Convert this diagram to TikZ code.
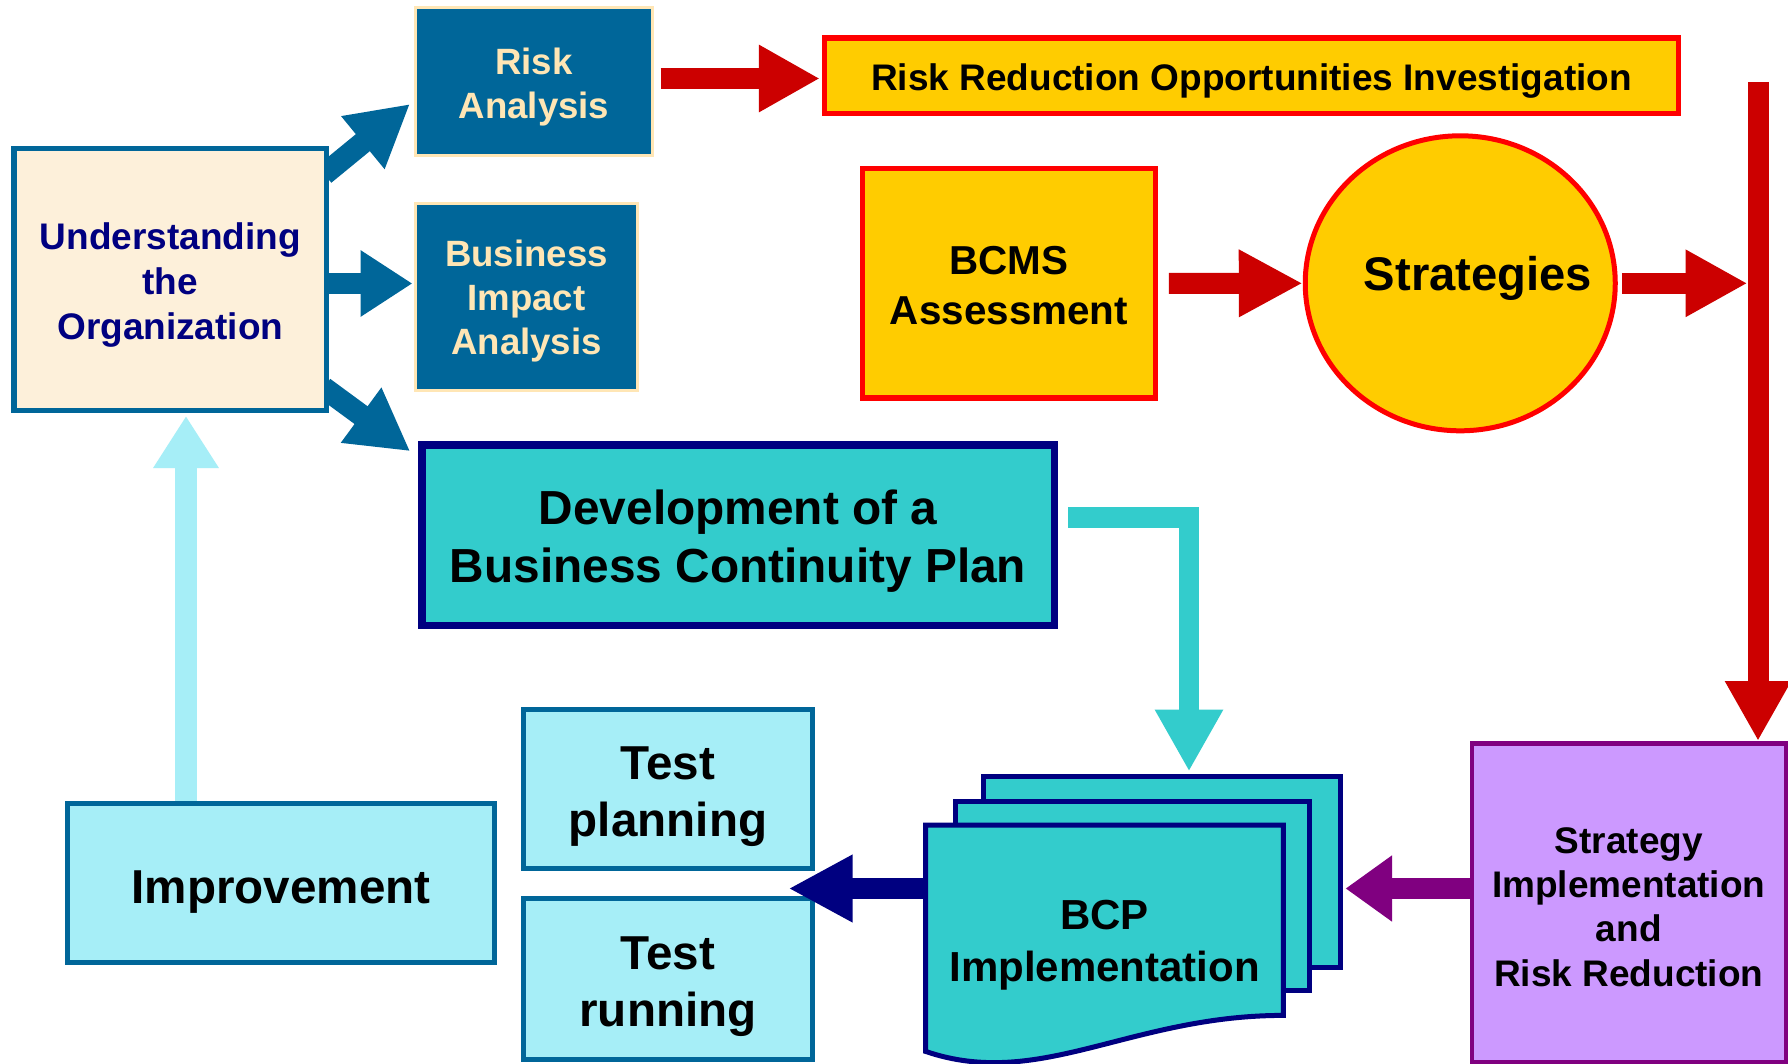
\documentclass[tikz,border=0pt]{standalone}
\usepackage{fontspec}
\setmainfont{Liberation Sans}
\usetikzlibrary{arrows.meta,calc,shapes.geometric,backgrounds}
\definecolor{cblue}{RGB}{0,102,153}
\definecolor{ccream}{RGB}{253,240,218}
\definecolor{ctext}{RGB}{255,230,181}
\definecolor{cnavy}{RGB}{0,0,128}
\definecolor{cteal}{RGB}{51,204,204}
\definecolor{cyel}{RGB}{255,204,0}
\definecolor{cred}{RGB}{255,0,0}
\definecolor{cdred}{RGB}{204,0,0}
\definecolor{clight}{RGB}{166,238,247}
\definecolor{cpurp}{RGB}{128,0,128}
\definecolor{clav}{RGB}{204,153,255}
\newcommand{\fsz}[2]{\fontsize{#1}{#2}\selectfont\bfseries}
% strut that moves a centred node text down by #1
\newcommand{\dn}[1]{\rule{0pt}{\dimexpr0.74em+#1+#1\relax}}
\begin{document}
\begin{tikzpicture}[x=0.5pt,y=-0.5pt,
  box/.style={rectangle, inner sep=0pt, align=center, text=black},
  undbox/.style={box, draw=cblue, fill=ccream, line width=2.75pt, text=cnavy, font=\fsz{18.5}{22.5}},
  dbbox/.style={box, draw=ctext, fill=cblue, line width=1.5pt, text=ctext, font=\fsz{18.3}{22}},
  devbox/.style={box, draw=cnavy, fill=cteal, line width=3.75pt, font=\fsz{23.9}{29}},
  yelbox/.style={box, draw=cred, fill=cyel, line width=2.6pt},
  ltbox/.style={box, draw=cblue, fill=clight, line width=2.5pt, font=\fsz{23.8}{28.5}},
  page/.style={draw=cnavy, fill=cteal, line width=2.5pt},
  pagenode/.style={rectangle, inner sep=0pt, page},
  redarrow/.style={draw=cdred, line width=10.5pt},
  bluearrow/.style={draw=cblue, line width=10.5pt},
]
\useasboundingbox (0,0) rectangle (1788,1064);

% ---- nodes ----
\node[undbox, minimum width=156.3pt, minimum height=130.75pt] (und) at (170.3,279.5) {\dn{2.85pt}Understanding\\the\\Organization};
\node[dbbox, minimum width=118.5pt, minimum height=74pt] (ra) at (534,81.5) {\dn{2.6pt}Risk\\Analysis};
\node[dbbox, minimum width=111pt, minimum height=93.5pt] (bia) at (526.5,297) {\dn{2pt}Business\\Impact\\Analysis};
\node[devbox, minimum width=316.25pt, minimum height=90.25pt] (dev) at (738,535) {\dn{2.85pt}Development of a\\Business Continuity Plan};
\node[yelbox, minimum width=427pt, minimum height=37.75pt, font=\fsz{18.5}{22}] (rr) at (1251.5,75.8) {\dn{2.3pt}Risk Reduction Opportunities Investigation};
\node[yelbox, minimum width=146.25pt, minimum height=114.6pt, font=\fsz{20.2}{25}] (bcms) at (1009,283.4) {\dn{0.9pt}BCMS\\Assessment};
\node[ellipse, draw=cred, fill=cyel, line width=2.5pt, inner sep=0pt, minimum width=155pt, minimum height=147.5pt,
  label={[font=\fsz{23.6}{28}, xshift=8.9pt, yshift=2.3pt]center:Strategies}] (strat) at (1460.25,283.3) {};
\node[ltbox, minimum width=213.5pt, minimum height=79.75pt] (imp) at (281,882.75) {\dn{4pt}Improvement};
\node[ltbox, minimum width=144.5pt, minimum height=79.75pt] (tp) at (668,788.75) {\dn{3.4pt}Test\\planning};
\node[ltbox, minimum width=144.5pt, minimum height=80.4pt] (tr) at (668,978.9) {\dn{3.4pt}Test\\running};
\node[box, draw=cpurp, fill=clav, line width=2.25pt, minimum width=157pt, minimum height=159.25pt, font=\fsz{18.5}{22.2}] (si) at (1628.75,902.5) {\dn{1.8pt}Strategy\\Implementation\\and\\Risk Reduction};

% BCP document stack
\node[pagenode, minimum width=178.5pt, minimum height=95.5pt] (back) at (1162,872) {};
\node[pagenode, minimum width=177pt, minimum height=94.7pt] (mid) at (1132,896) {};
\node[rectangle, inner sep=0pt, minimum width=178.5pt, minimum height=112.75pt] (front) at (1104.5,938.25) {};
\path[page] (front.south west) -- (front.north west) -- (front.north east) -- ($(front.south east)+(0,-36)$)
  .. controls ($(front.south west)+(204,-36)$) and ($(front.south west)+(114,39)$) .. (front.south west) -- cycle;
\node[font=\fsz{21}{26}, align=center, inner sep=0pt] (bcp) at ($(front.center)+(0,7)$) {BCP\\Implementation};

% ---- connectors ----
\begin{scope}[on background layer]
  \fill[white] (0,0) rectangle (1788,1064);
  \draw[bluearrow, line width=11pt, -{Triangle[length=30.5pt,width=32pt]}]
    ($(und.north east)+(-5,28.25)$) -- ($(ra.west)+(-4,22.5)$);
  \coordinate (a3) at ($(und.east)+(0,4)$);
  \draw[bluearrow, -{Triangle[length=26pt,width=31.5pt]}] (a3) -- ($(a3 -| bia.west)+(-1.5,0)$);
  \draw[bluearrow, line width=11pt, -{Triangle[length=30.5pt,width=32pt]}]
    ($(und.south east)+(-5.6,-25.25)$) -- ($(dev.north west)+(-7.75,10.25)$);
  \coordinate (a4) at ($(imp.north)+(-95,0)$);
  \draw[draw=clight, line width=11pt, -{Triangle[length=26pt,width=31pt]}] (a4) -- ($(a4 |- und.south)+(0,3)$);
\end{scope}

\coordinate (a1) at ($(ra.east)+(6.5,-3)$);
\draw[redarrow, -{Triangle[length=30.5pt,width=31.5pt]}] (a1) -- ($(a1 -| rr.west)+(-2,0)$);
\coordinate (a2) at ($(bcms.east)+(11,0)$);
\draw[redarrow, -{Triangle[length=32pt,width=31.5pt]}] (a2) -- (strat.west);
\coordinate (rtop) at (1758,82);
\draw[redarrow, -{Triangle[length=31pt,width=31.5pt]}] ($(strat.east)+(4,0)$) -- ($(strat.east -| rtop)+(-10.5,0)$);
\draw[redarrow, -{Triangle[length=30pt,width=31pt]}] (rtop) -- (rtop |- si.north);

\coordinate (a5) at ($(dev.east)+(10,-17.5)$);
\draw[draw=cteal, line width=10.25pt, line join=miter, -{Triangle[length=31pt,width=32pt]}] (a5) -| ($(back.north)+(27,-2.5)$);

\coordinate (a6) at ($(si.west)+(0,-14)$);
\draw[draw=cpurp, line width=10.5pt, -{Triangle[length=23.25pt,width=31.5pt]}] (a6) -- ($(a6 -| back.east)+(2.5,0)$);

\coordinate (a7) at ($(front.west)+(0,-49.75)$);
\draw[draw=cnavy, line width=10.5pt, -{Triangle[length=32pt,width=31.5pt]}] (a7) -- ($(a7 -| tp.east)+(-26.5,0)$);
\end{tikzpicture}
\end{document}
